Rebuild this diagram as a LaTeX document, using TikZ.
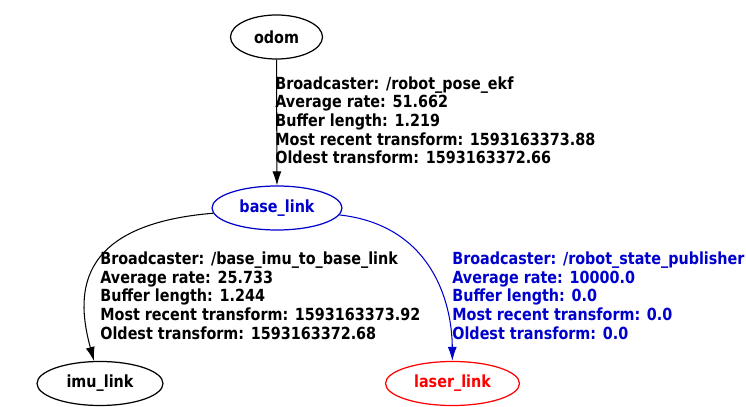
\documentclass[tikz,border=0pt]{standalone}
\usepackage{fontspec}
\setmainfont{DejaVu Sans}[FakeStretch=0.86]
\usetikzlibrary{shapes.geometric,arrows.meta}
\definecolor{tfblue}{RGB}{0,0,205}
\definecolor{tfred}{RGB}{255,0,0}
\tikzset{
	frame/.style={ellipse, draw, line width=0.7pt, inner sep=0pt, minimum height=0.88cm},
	info/.style={anchor=north west, inner sep=0pt, align=left},
	tf/.style={-{Latex[length=0.28cm,width=0.18cm]}, line width=0.6pt}
}
\begin{document}
\begin{tikzpicture}[font=\fontsize{9.5}{10.63}\selectfont\bfseries]
		\useasboundingbox (0,0) rectangle (14.92,8.14);
		\node[frame, minimum width=1.84cm] (v1) at (5.53,7.40) {odom};
		\node[frame, draw=tfblue, text=tfblue, minimum width=2.6cm] (v2) at (5.54,3.98) {base\_link};
		\node[frame, minimum width=2.52cm] (v3) at (2.00,0.47) {imu\_link};
		\node[frame, draw=tfred, text=tfred, minimum width=2.68cm] (v4) at (9.05,0.47) {laser\_link};
		\draw [tf] (v1) edge (v2);
		\draw [tf] (v2) .. controls (1.40,3.64) and (1.55,2.14) .. (v3);
		\draw [tf, tfblue] (v2) .. controls (8.60,3.64) and (9.04,2.14) .. (v4);
		\node[info] (v5) at (5.50,6.62) {Broadcaster: /robot\_pose\_ekf\\Average rate: 51.662\\Buffer length: 1.219\\Most recent transform: 1593163373.88\\Oldest transform: 1593163372.66};
		\node[info] (v6) at (2.00,3.11) {Broadcaster: /base\_imu\_to\_base\_link\\Average rate: 25.733\\Buffer length: 1.244\\Most recent transform: 1593163373.92\\Oldest transform: 1593163372.68};
		\node[info, text=tfblue] (v7) at (9.04,3.11) {Broadcaster: /robot\_state\_publisher\\Average rate: 10000.0\\Buffer length: 0.0\\Most recent transform: 0.0\\Oldest transform: 0.0};
\end{tikzpicture}
\end{document}
